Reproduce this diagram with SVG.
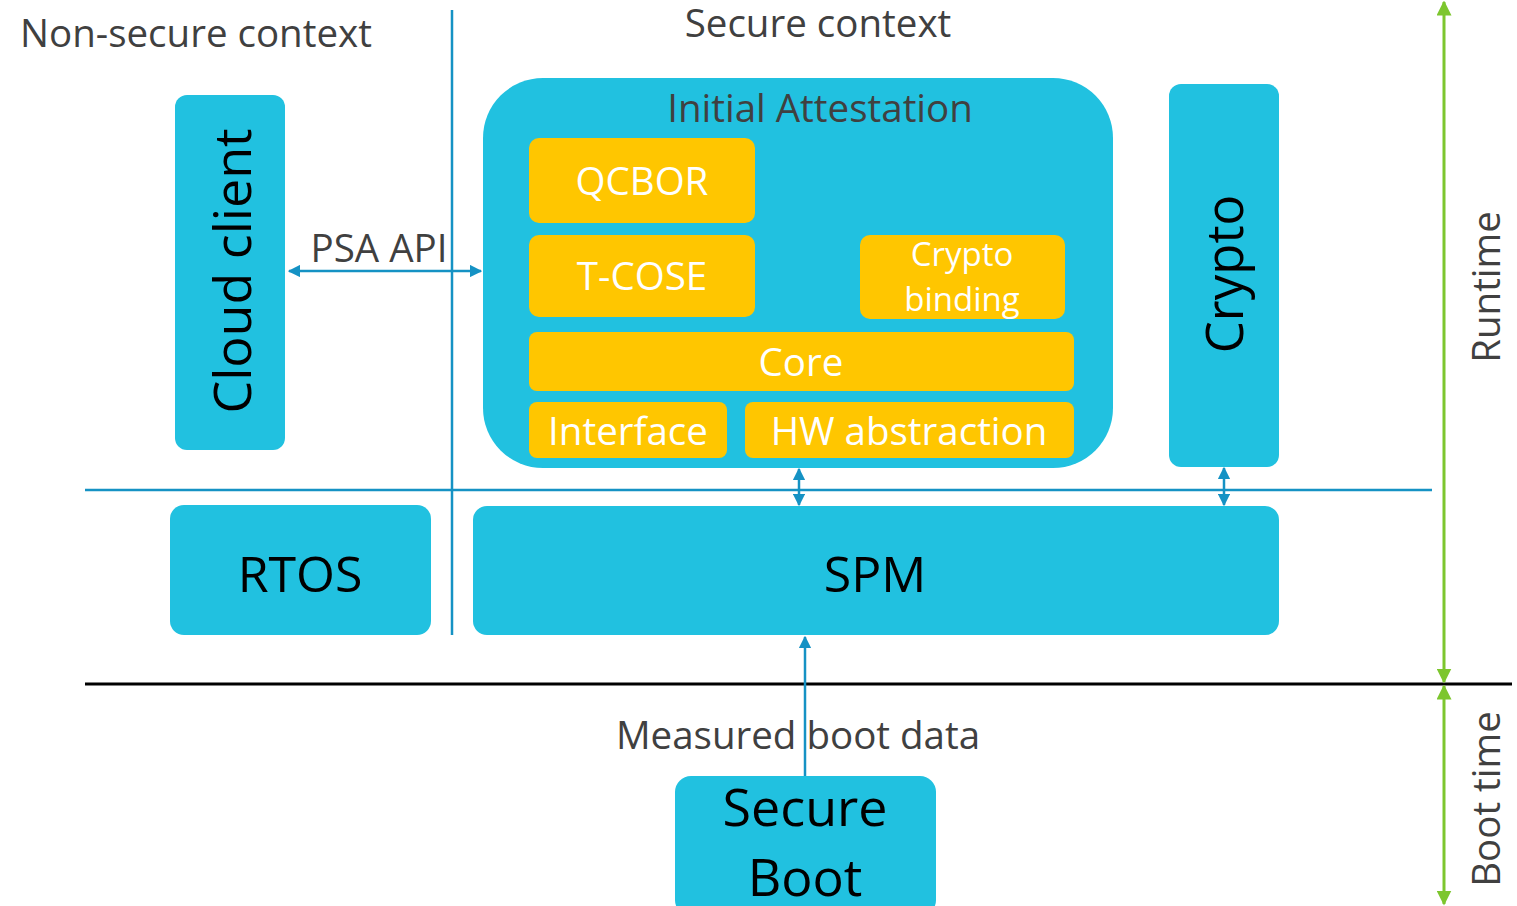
<svg xmlns="http://www.w3.org/2000/svg" width="1517" height="906" viewBox="0 0 1517 906">
<defs>
<style>
.blue{fill:#21C1E0}
.yel{fill:#FFC600}
.t{font-family:"Open Sans","Noto Sans",sans-serif}
.lbl{fill:#404040;font-size:38.5px}
.wt{fill:#ffffff;font-size:38.5px;text-anchor:middle}
.sm{font-size:33px}
.bk{fill:#000000;text-anchor:middle}
.ln{stroke:#1592C4;stroke-width:2.5;fill:none}
.gr{stroke:#7DC62E;stroke-width:3;fill:none}
</style>
<marker id="ab" viewBox="0 0 10 10" refX="9" refY="5" markerWidth="5" markerHeight="5" orient="auto-start-reverse" markerUnits="strokeWidth"><path d="M0,0 L10,5 L0,10 z" fill="#1592C4"/></marker>
<marker id="ag" viewBox="0 0 10 10" refX="9" refY="5" markerWidth="5" markerHeight="5" orient="auto-start-reverse" markerUnits="strokeWidth"><path d="M0,0 L10,5 L0,10 z" fill="#7DC62E"/></marker>
</defs>
<rect width="1517" height="906" fill="#ffffff"/>
<g id="labels" class="t">
<text x="20" y="47" class="lbl">Non-secure context</text>
<text x="818" y="37" class="lbl" text-anchor="middle">Secure context</text>
<text x="798" y="749" class="lbl" text-anchor="middle">Measured boot data</text>
<text x="379" y="262" class="lbl" text-anchor="middle">PSA API</text>
<text transform="translate(1500,287) rotate(-90)" class="lbl" text-anchor="middle">Runtime</text>
<text transform="translate(1500,799) rotate(-90)" class="lbl" text-anchor="middle">Boot time</text>
</g>
<g id="cloud-client">
<rect x="175" y="95" width="110" height="355" rx="12" class="blue"/>
<text transform="translate(251,271) rotate(-90)" class="t bk" font-size="52">Cloud client</text>
</g>
<g id="initial-attestation">
<rect x="483" y="78" width="630" height="390" rx="60" class="blue"/>
<text x="820" y="122" class="t lbl" text-anchor="middle">Initial Attestation</text>
</g>
<g id="qcbor"><rect x="529" y="138" width="226" height="85" rx="10" class="yel"/><text x="642" y="195" class="t wt">QCBOR</text></g>
<g id="t-cose"><rect x="529" y="235" width="226" height="82" rx="10" class="yel"/><text x="642" y="290" class="t wt">T-COSE</text></g>
<g id="crypto-binding"><rect x="860" y="235" width="205" height="84" rx="10" class="yel"/><text x="962" y="266" class="t wt sm">Crypto</text><text x="962" y="311" class="t wt sm">binding</text></g>
<g id="core"><rect x="529" y="332" width="545" height="59" rx="8" class="yel"/><text x="801" y="376" class="t wt">Core</text></g>
<g id="interface"><rect x="529" y="402" width="198" height="56" rx="8" class="yel"/><text x="628" y="445" class="t wt">Interface</text></g>
<g id="hw-abstraction"><rect x="745" y="402" width="329" height="56" rx="8" class="yel"/><text x="909" y="445" class="t wt">HW abstraction</text></g>
<g id="crypto">
<rect x="1169" y="84" width="110" height="383" rx="12" class="blue"/>
<text transform="translate(1243,274) rotate(-90)" class="t bk" font-size="51">Crypto</text>
</g>
<g id="rtos"><rect x="170" y="505" width="261" height="130" rx="14" class="blue"/><text x="300" y="592" class="t bk" font-size="50">RTOS</text></g>
<g id="spm"><rect x="473" y="506" width="806" height="129" rx="14" class="blue"/><text x="875" y="592" class="t bk" font-size="50">SPM</text></g>
<g id="secure-boot"><rect x="675" y="776" width="261" height="140" rx="16" class="blue"/><text x="805" y="826" class="t bk" font-size="52">Secure</text><text x="805" y="896" class="t bk" font-size="52">Boot</text></g>
<g id="connectors">
<line x1="452" y1="10" x2="452" y2="635" class="ln" stroke-width="2"/>
<line x1="85" y1="490" x2="1432" y2="490" class="ln" stroke-width="2"/>
<line x1="85" y1="684" x2="1512" y2="684" stroke="#000" stroke-width="3"/>
<line x1="289" y1="271" x2="481" y2="271" class="ln" marker-start="url(#ab)" marker-end="url(#ab)"/>
<line x1="799" y1="469" x2="799" y2="505" class="ln" marker-start="url(#ab)" marker-end="url(#ab)"/>
<line x1="1224" y1="468" x2="1224" y2="505" class="ln" marker-start="url(#ab)" marker-end="url(#ab)"/>
<line x1="805" y1="776" x2="805" y2="637" class="ln" marker-end="url(#ab)"/>
<line x1="1444" y1="682" x2="1444" y2="2" class="gr" marker-start="url(#ag)" marker-end="url(#ag)"/>
<line x1="1444" y1="686" x2="1444" y2="904" class="gr" marker-start="url(#ag)" marker-end="url(#ag)"/>
</g>
</svg>
